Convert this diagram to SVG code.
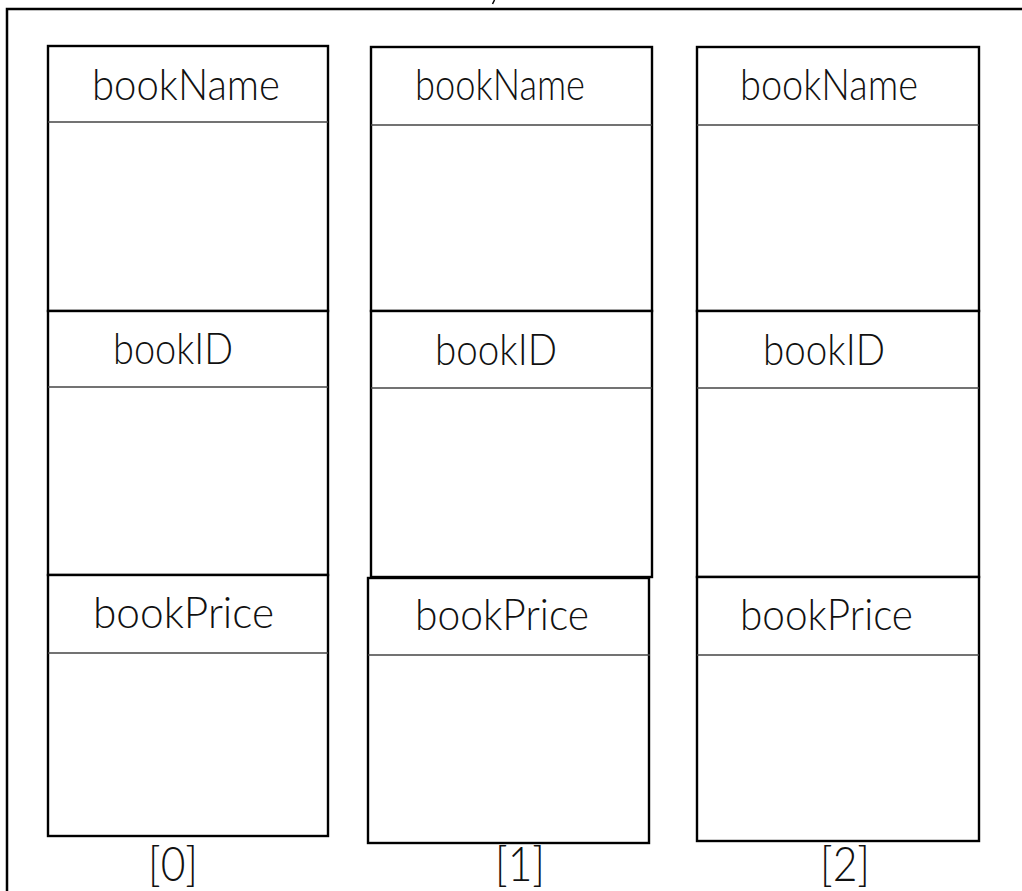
<svg xmlns="http://www.w3.org/2000/svg" width="1022" height="891" viewBox="0 0 1022 891">
<style>
.box{fill:#fff;stroke:#000;stroke-width:2.4}
.hdr{stroke:#444;stroke-width:1.4}
.lbl{font-family:Lato,"Open Sans","DejaVu Sans",sans-serif;font-weight:300;font-size:43px;fill:#111}
.idx{font-family:Lato,"Open Sans","DejaVu Sans",sans-serif;font-weight:300;font-size:47px;fill:#111}
</style>
<rect width="1022" height="891" fill="#fff"/>
<g id="frame">
<polyline points="1030,9 7,9 7,900" fill="none" stroke="#000" stroke-width="2.5"/>
<line x1="494.5" y1="0" x2="492.5" y2="4" stroke="#000" stroke-width="1.5"/>
</g>
<g id="element0">
<rect class="box" x="48" y="46" width="280" height="265"/>
<line class="hdr" x1="48" y1="122" x2="328" y2="122"/>
<text class="lbl" x="92" y="100" textLength="188" lengthAdjust="spacingAndGlyphs">bookName</text>
<rect class="box" x="48" y="311" width="280" height="264"/>
<line class="hdr" x1="48" y1="387" x2="328" y2="387"/>
<text class="lbl" x="113" y="364" textLength="120" lengthAdjust="spacingAndGlyphs">bookID</text>
<rect class="box" x="48" y="575" width="280" height="261"/>
<line class="hdr" x1="48" y1="653" x2="328" y2="653"/>
<text class="lbl" x="93" y="628" textLength="181" lengthAdjust="spacingAndGlyphs">bookPrice</text>
<text class="idx" x="148" y="881" textLength="50" lengthAdjust="spacingAndGlyphs">[0]</text>
</g>
<g id="element1">
<rect class="box" x="371" y="47" width="281" height="264"/>
<line class="hdr" x1="371" y1="125" x2="652" y2="125"/>
<text class="lbl" x="415" y="100" textLength="170" lengthAdjust="spacingAndGlyphs">bookName</text>
<rect class="box" x="371" y="311" width="281" height="266"/>
<line class="hdr" x1="371" y1="388" x2="652" y2="388"/>
<text class="lbl" x="435" y="365" textLength="122" lengthAdjust="spacingAndGlyphs">bookID</text>
<rect class="box" x="368" y="578" width="281" height="265"/>
<line class="hdr" x1="368" y1="655" x2="650" y2="655"/>
<text class="lbl" x="415" y="630" textLength="174" lengthAdjust="spacingAndGlyphs">bookPrice</text>
<text class="idx" x="495" y="881" textLength="50" lengthAdjust="spacingAndGlyphs">[1]</text>
</g>
<g id="element2">
<rect class="box" x="697" y="47" width="282" height="264"/>
<line class="hdr" x1="697" y1="125" x2="979" y2="125"/>
<text class="lbl" x="740" y="100" textLength="178" lengthAdjust="spacingAndGlyphs">bookName</text>
<rect class="box" x="697" y="311" width="282" height="266"/>
<line class="hdr" x1="697" y1="388" x2="979" y2="388"/>
<text class="lbl" x="763" y="365" textLength="122" lengthAdjust="spacingAndGlyphs">bookID</text>
<rect class="box" x="697" y="577" width="282" height="264"/>
<line class="hdr" x1="697" y1="655" x2="979" y2="655"/>
<text class="lbl" x="740" y="630" textLength="173" lengthAdjust="spacingAndGlyphs">bookPrice</text>
<text class="idx" x="820" y="881" textLength="50" lengthAdjust="spacingAndGlyphs">[2]</text>
</g>
<g id="connectors"></g>
</svg>
